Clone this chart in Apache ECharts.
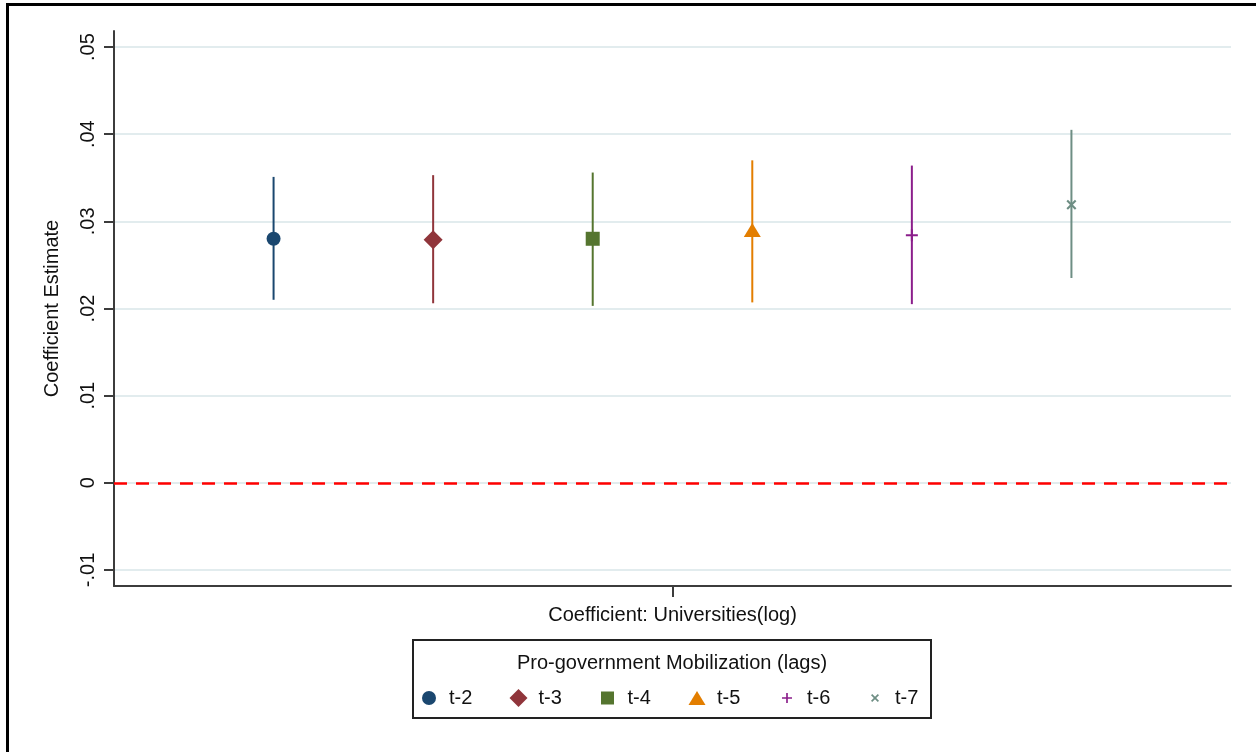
<!DOCTYPE html>
<html>
<head>
<meta charset="utf-8">
<script src="https://cdn.jsdelivr.net/npm/echarts@6/dist/echarts.min.js"></script>
<style>
html,body{margin:0;padding:0;background:#fff;}
#chart{width:1256px;height:752px;}
</style>
</head>
<body>
<div id="chart"></div>
<script>
// ---- data ----
const coefLabel = ['Coefficient: Universities(log)'];
const legendTitle = 'Pro-government Mobilization (lags)';
const lags = ['t-2', 't-3', 't-4', 't-5', 't-6', 't-7'];
const estimates = [0.0280, 0.0279, 0.0280, 0.0290, 0.0284, 0.0319];
const lowerCI   = [0.0210, 0.0206, 0.0203, 0.0207, 0.0205, 0.0235];
const upperCI   = [0.0351, 0.0353, 0.0356, 0.0370, 0.0364, 0.0405];
const yTicks = [-0.01, 0, 0.01, 0.02, 0.03, 0.04, 0.05];
const yTickLabels = ['-.01', '0', '.01', '.02', '.03', '.04', '.05'];
const refLineValue = 0;

// ---- styles ----
const colors = ['#1a476f', '#90353b', '#55752f', '#e37e00', '#8b1e8b', '#6e8e84'];
const plusPath = 'path://M5,0H7V5H12V7H7V12H5V7H0V5H5Z';
const crossPath = 'path://M0,1.8L1.8,0L6,4.2L10.2,0L12,1.8L7.8,6L12,10.2L10.2,12L6,7.8L1.8,12L0,10.2L4.2,6Z';
const symbols = ['circle', 'diamond', 'rect', 'triangle', plusPath, crossPath];
const symbolSizes = [14, 19, 14, [17, 14], 12, 10];
const legendW = [14, 18, 13, 17, 10, 8];
const legendH = [14, 18, 13, 14, 10, 8];
const legendCenters = [429, 518.5, 607.5, 697, 787, 875];
const FONT = '"Liberation Sans", Arial, sans-serif';

const chart = echarts.init(document.getElementById('chart'));

const series = [];
lags.forEach((name, i) => {
  const pos = i + 1;
  series.push({
    name: name + ' CI',
    type: 'custom',
    clip: false,
    z: 2,
    data: [[pos, lowerCI[i], upperCI[i]]],
    encode: { x: 0, y: [1, 2] },
    renderItem: (params, api) => {
      const p1 = api.coord([api.value(0), api.value(1)]);
      const p2 = api.coord([api.value(0), api.value(2)]);
      return {
        type: 'line',
        shape: { x1: p1[0], y1: p1[1], x2: p2[0], y2: p2[1] },
        style: { stroke: colors[i], lineWidth: 2 }
      };
    },
    silent: true
  });
  series.push({
    name: name,
    type: 'scatter',
    z: 5,
    symbol: symbols[i],
    symbolSize: symbolSizes[i],
    itemStyle: { color: colors[i], opacity: 1 },
    data: [[pos, estimates[i]]],
    silent: true
  });
});
// reference line at zero
series[0].markLine = {
  silent: true,
  symbol: 'none',
  label: { show: false },
  lineStyle: { color: '#ff0000', width: 2.5, type: [13, 9] },
  data: [{ yAxis: refLineValue }]
};

const legends = lags.map((name, i) => ({
  data: [name],
  left: legendCenters[i] - legendW[i] / 2,
  top: 688,
  padding: 0,
  itemWidth: legendW[i],
  itemHeight: legendH[i],
  symbolKeepAspect: false,
  selectedMode: false,
  textStyle: {
    fontSize: 20, color: '#111', fontFamily: FONT,
    padding: [0, 0, 0, 15 - legendW[i] / 2]
  }
}));

const option = {
  backgroundColor: '#fff',
  animation: false,
  textStyle: { fontFamily: FONT },
  grid: { left: 114, right: 25, top: 31, bottom: 166 },
  title: {
    text: legendTitle,
    left: 672,
    top: 653,
    textAlign: 'center',
    padding: 0,
    textStyle: { fontSize: 20, fontWeight: 'normal', color: '#111', fontFamily: FONT }
  },
  legend: legends,
  xAxis: {
    type: 'value',
    min: 0,
    max: 7,
    axisLine: { show: true, onZero: false, lineStyle: { color: '#3c3c3c', width: 2 } },
    axisTick: { show: true, customValues: [3.5], length: 11, lineStyle: { color: '#3c3c3c', width: 2 } },
    axisLabel: {
      customValues: [3.5],
      formatter: () => coefLabel[0],
      fontSize: 20, color: '#111', margin: 19, fontFamily: FONT
    },
    splitLine: { show: false }
  },
  yAxis: {
    type: 'value',
    min: -0.01184,
    max: 0.05184,
    name: 'Coefficient Estimate',
    nameLocation: 'middle',
    nameRotate: 90,
    nameGap: 52,
    nameTextStyle: { fontSize: 20, color: '#111', fontFamily: FONT },
    axisLine: { show: true, lineStyle: { color: '#3c3c3c', width: 2 } },
    axisTick: { show: true, customValues: yTicks, length: 10, lineStyle: { color: '#3c3c3c', width: 2 } },
    axisLabel: {
      customValues: yTicks,
      rotate: 90,
      margin: 16,
      fontSize: 20, color: '#111', fontFamily: FONT,
      formatter: (v) => {
        const k = yTicks.findIndex(t => Math.abs(t - v) < 1e-9);
        return k >= 0 ? yTickLabels[k] : '';
      }
    },
    splitLine: { show: true, lineStyle: { color: '#e2ecee', width: 2 } }
  },
  graphic: [
    {
      type: 'rect',
      shape: { x: 7.5, y: 4.5, width: 1400, height: 900 },
      style: { fill: null, stroke: '#000', lineWidth: 3 },
      silent: true, z: 100
    },
    {
      type: 'rect',
      shape: { x: 413, y: 640, width: 518, height: 78 },
      style: { fill: null, stroke: '#222', lineWidth: 2 },
      silent: true, z: 100
    }
  ],
  series: series
};
chart.setOption(option);
</script>
</body>
</html>
